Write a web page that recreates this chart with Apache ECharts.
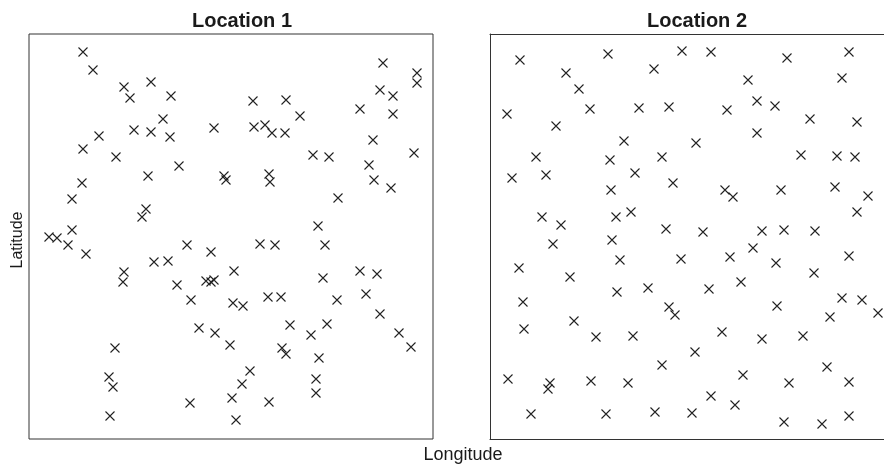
<!DOCTYPE html>
<html>
<head>
<meta charset="utf-8">
<script src="https://cdn.jsdelivr.net/npm/echarts@6/dist/echarts.min.js"></script>
<style>html,body{margin:0;padding:0;background:#fff;}#c{width:884px;height:465px;}</style>
</head>
<body>
<div id="c"></div>
<script>
// Panel titles and axis labels
var panelTitles = ['Location 1', 'Location 2'];
var xLabel = 'Longitude';
var yLabel = 'Latitude';

// Location 1: [longitude, latitude] in arbitrary plot units (0..404 x 0..405)
var location1 = [
  [54,387],[64,369],[95,352],[122,357],[101,341],[142,343],[134,320],[105,309],[122,307],[141,302],
  [185,311],[70,303],[54,290],[87,282],[150,273],[119,263],[195,263],[197,259],[53,256],[43,240],
  [117,230],[113,222],[43,209],[20,202],[28,201],[39,194],[57,185],[125,177],[139,178],[158,194],
  [182,187],[95,167],[94,157],[148,154],[177,158],[182,157],[185,159],[162,139],[204,136],[214,133],
  [170,111],[186,106],[201,94],[86,91],[80,62],[84,52],[161,36],[203,41],[207,19],[81,23],
  [213,55],[231,195],[246,194],[296,194],[205,168],[294,161],[331,168],[348,165],[239,142],[252,142],
  [308,139],[337,145],[261,114],[282,104],[298,115],[351,125],[370,106],[382,92],[253,91],[257,85],
  [290,81],[221,68],[287,60],[287,46],[240,37],[354,376],[388,366],[388,356],[351,349],[364,343],
  [331,330],[364,325],[224,338],[257,339],[271,323],[225,312],[236,314],[243,306],[256,306],[344,299],
  [385,286],[284,284],[300,282],[340,274],[345,259],[362,251],[240,265],[241,257],[309,241],[289,213]
];

// Location 2: [longitude, latitude] (panel is cut at the right image edge)
var location2 = [
  [30,379],[118,385],[192,388],[164,370],[76,366],[89,350],[17,325],[100,330],[149,331],[179,332],
  [66,313],[134,298],[46,282],[120,279],[172,282],[22,261],[56,264],[145,266],[183,256],[121,249],
  [52,222],[71,214],[126,222],[141,227],[176,210],[122,199],[221,387],[297,381],[359,387],[258,359],
  [352,361],[267,338],[237,329],[285,333],[320,320],[367,317],[267,306],[206,296],[311,284],[347,283],
  [365,282],[235,249],[243,242],[291,249],[345,252],[378,243],[367,227],[213,207],[272,208],[294,209],
  [325,208],[63,195],[29,171],[130,179],[191,180],[80,162],[33,137],[127,147],[158,151],[179,132],
  [185,124],[34,110],[84,118],[106,102],[143,103],[172,74],[18,60],[60,56],[58,50],[101,58],
  [138,56],[41,25],[116,25],[165,27],[202,26],[263,191],[240,182],[286,176],[359,183],[324,166],
  [219,150],[251,157],[287,133],[352,141],[372,139],[388,126],[340,122],[232,107],[272,100],[313,103],
  [205,87],[253,64],[299,56],[337,72],[359,57],[221,43],[245,34],[294,17],[332,15],[359,23]
];

var xRange1 = [0, 404];
var xRange2 = [0, 394];   // visible part of the second panel
var yRange = [0, 405];

var chart = echarts.init(document.getElementById('c'), null, {renderer: 'canvas'});
var font = "'Liberation Sans', Arial, Helvetica, sans-serif";
var cross = 'path://M0,0L10,10M10,0L0,10';
var lineStyle = {color:'#333', width:1};

function ax(gi, range, pos, showLine){ return {gridIndex:gi, type:'value', min:range[0], max:range[1], position:pos,
  axisLine:{show:showLine, onZero:false, lineStyle:lineStyle}, axisTick:{show:false}, axisLabel:{show:false}, splitLine:{show:false}}; }
function mkS(i, data){ return {type:'scatter', xAxisIndex:i, yAxisIndex:i, data:data,
  symbol:cross, symbolSize:9, silent:true, clip:false,
  itemStyle:{color:'rgba(0,0,0,0)', borderColor:'#222', borderWidth:1.1, opacity:1}}; }

chart.setOption({
  animation:false,
  backgroundColor:'#ffffff',
  title:[
    {text:panelTitles[0], left:237, top:6, textAlign:'center',
     textStyle:{fontFamily:font, fontSize:20, fontWeight:'bold', color:'#1a1a1a'}},
    {text:panelTitles[1], left:692, top:6, textAlign:'center',
     textStyle:{fontFamily:font, fontSize:20, fontWeight:'bold', color:'#1a1a1a'}}
  ],
  grid:[
    {left:29, top:34, width:404, height:405, show:true, borderColor:'#333', borderWidth:1, backgroundColor:'rgba(0,0,0,0)'},
    {left:490, top:34, width:394, height:405, show:false}
  ],
  xAxis:[ax(0, xRange1, 'bottom', false), ax(1, xRange2, 'bottom', true), ax(1, xRange2, 'top', true)],
  yAxis:[ax(0, yRange, 'left', false), ax(1, yRange, 'left', true)],
  series:[mkS(0, location1), mkS(1, location2)],
  graphic:[
    {type:'text', x:18, y:240, rotation:Math.PI/2,
     style:{text:yLabel, fontFamily:font, fontSize:16, fill:'#1a1a1a', align:'center', verticalAlign:'middle'}},
    {type:'text', x:463, y:455,
     style:{text:xLabel, fontFamily:font, fontSize:18, fill:'#1a1a1a', align:'center', verticalAlign:'middle'}}
  ]
});
</script>
</body>
</html>
